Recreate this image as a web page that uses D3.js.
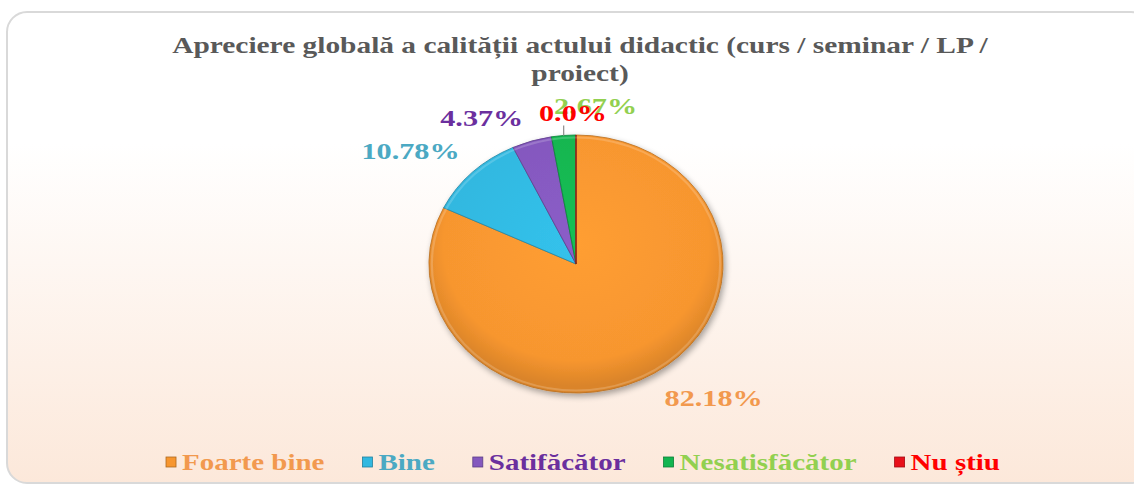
<!DOCTYPE html>
<html>
<head>
<meta charset="utf-8">
<script src="https://cdn.jsdelivr.net/npm/d3@7"></script>
<style>
  body { margin: 0; background: #fff; }
  svg { display: block; }
</style>
</head>
<body>
<svg id="chart" width="1134" height="486"></svg>
<script>

// data
var categories = ["Foarte bine", "Bine", "Satifăcător", "Nesatisfăcător", "Nu știu"];
var values = [82.18, 10.78, 4.37, 2.67, 0.0];
var valueLabels = ["82.18%", "10.78%", "4.37%", "2.67%", "0.0%"];
var titleLines = ["Apreciere globală a calității actului didactic (curs / seminar / LP /", "proiect)"];

// colours
var sliceColors = ["#F7962F", "#31B8E0", "#8458BE", "#12B550", "#E8101A"];
var labelColors = ["#F2994E", "#4BA9C3", "#6B2F9E", "#92D050", "#FF0000"];

// label nudges (layout only, px)
var labelShift = [[40, 5], [-36, 10], [-39, 16], [35, 11], [-3, 18]];

var svg = d3.select("svg#chart"),
    W = +svg.attr("width"),
    H = +svg.attr("height");

// the picture is stretched sideways
var sx = 1.14;
var textSx = 1.26;
var cx = 576, cy = 264, r = 129;
var font = "'Liberation Serif', 'Times New Roman', serif";

var defs = svg.append("defs");

var bg = defs.append("linearGradient")
    .attr("id", "bgGrad")
    .attr("x1", 0).attr("y1", 0).attr("x2", 0).attr("y2", 1);
bg.append("stop").attr("offset", "0%").attr("stop-color", "#ffffff");
bg.append("stop").attr("offset", "28%").attr("stop-color", "#ffffff");
bg.append("stop").attr("offset", "100%").attr("stop-color", "#FCE8DA");

// chart area
svg.append("rect")
    .attr("x", 7)
    .attr("y", 12)
    .attr("width", W + 10)
    .attr("height", H - 15)
    .attr("rx", 20)
    .attr("fill", "url(#bgGrad)")
    .attr("stroke", "#D9D9D9")
    .attr("stroke-width", 2);

// shadow for the pie
var shadow = defs.append("filter").attr("id", "pieShadow")
    .attr("x", "-20%").attr("y", "-20%").attr("width", "140%").attr("height", "140%");
shadow.append("feGaussianBlur").attr("in", "SourceAlpha").attr("stdDeviation", 3);
shadow.append("feOffset").attr("dx", 2).attr("dy", 3).attr("result", "off");
shadow.append("feComponentTransfer").append("feFuncA").attr("type", "linear").attr("slope", 0.35);
var merge = shadow.append("feMerge");
merge.append("feMergeNode");
merge.append("feMergeNode").attr("in", "SourceGraphic");

// slice gradients
sliceColors.forEach(function(c, i) {
  var g = defs.append("radialGradient")
      .attr("id", "slice" + i)
      .attr("gradientUnits", "userSpaceOnUse")
      .attr("cx", 0).attr("cy", -20).attr("r", r * 1.1);
  g.append("stop").attr("offset", "0%").attr("stop-color", d3.color(c).brighter(0.15));
  g.append("stop").attr("offset", "82%").attr("stop-color", c);
  g.append("stop").attr("offset", "100%").attr("stop-color", d3.color(c).darker(0.35));
});

// title
var title = svg.append("g");
titleLines.forEach(function(t, i) {
  title.append("text")
      .attr("transform", "translate(" + 580 + "," + (53 + i * 28) + ") scale(1.225,1)")
      .attr("text-anchor", "middle")
      .attr("font-family", font)
      .attr("font-weight", "bold")
      .attr("font-size", "24px")
      .attr("fill", "#595959")
      .text(t);
});

// pie
var pie = d3.pie().sort(null).value(function(d) { return d; });
var arcs = pie(values);

var arc = d3.arc().innerRadius(0).outerRadius(r);

var pieG = svg.append("g")
    .attr("transform", "translate(" + cx + "," + cy + ") scale(" + sx + ",1)")
    .attr("filter", "url(#pieShadow)");

pieG.selectAll("path")
  .data(arcs)
  .enter().append("path")
    .attr("d", arc)
    .attr("fill", function(d, i) { return "url(#slice" + i + ")"; })
    .attr("stroke", function(d, i) { return d3.color(sliceColors[i]).darker(0.8); })
    .attr("stroke-width", 0.8);

// rim highlight
pieG.append("circle")
    .attr("r", r - 2.5)
    .attr("fill", "none")
    .attr("stroke", "#ffffff")
    .attr("stroke-opacity", 0.18)
    .attr("stroke-width", 2);

// leader line for the small green slice
var mid = function(d) { return (d.startAngle + d.endAngle) / 2; };
var gA = mid(arcs[3]);
svg.append("line")
    .attr("x1", cx + sx * r * Math.sin(gA))
    .attr("y1", cy - r * Math.cos(gA))
    .attr("x2", cx + sx * r * Math.sin(gA))
    .attr("y2", cy - r * Math.cos(gA) - 10)
    .attr("stroke", "#8C8C8C")
    .attr("stroke-width", 1.2);

// value labels
var lr = r * 1.25;
svg.selectAll(".valLabel")
  .data(arcs)
  .enter().append("text")
    .attr("class", "valLabel")
    .attr("transform", function(d, i) {
      var a = mid(d);
      var x = cx + sx * lr * Math.sin(a) + labelShift[i][0];
      var y = cy - lr * Math.cos(a) + labelShift[i][1];
      return "translate(" + x + "," + y + ") scale(" + textSx + ",1)";
    })
    .attr("text-anchor", "middle")
    .attr("font-family", font)
    .attr("font-weight", "bold")
    .attr("font-size", "24px")
    .attr("fill", function(d, i) { return labelColors[i]; })
    .text(function(d, i) { return valueLabels[i]; });

// legend
var legend = svg.append("g").attr("class", "legend");
var items = legend.selectAll("g")
  .data(categories)
  .enter().append("g");

items.append("rect")
    .attr("x", 0)
    .attr("y", -13)
    .attr("width", 10)
    .attr("height", 10)
    .attr("fill", function(d, i) { return sliceColors[i]; })
    .attr("stroke", function(d, i) { return d3.color(sliceColors[i]).darker(1); })
    .attr("stroke-width", 0.8);

items.append("text")
    .attr("transform", "translate(16,0) scale(" + textSx + ",1)")
    .attr("font-family", font)
    .attr("font-weight", "bold")
    .attr("font-size", "23px")
    .attr("fill", function(d, i) { return labelColors[i]; })
    .text(function(d) { return d; });

var xPos = 0;
items.each(function(d) {
  var w = d3.select(this).select("text").node().getComputedTextLength() * textSx;
  d3.select(this).attr("transform", "translate(" + xPos + ",0)");
  xPos += 16 + w + 38;
});
var legendW = xPos - 38;
legend.attr("transform", "translate(" + (583 - legendW / 2) + "," + 470 + ")");

</script>
</body>
</html>
